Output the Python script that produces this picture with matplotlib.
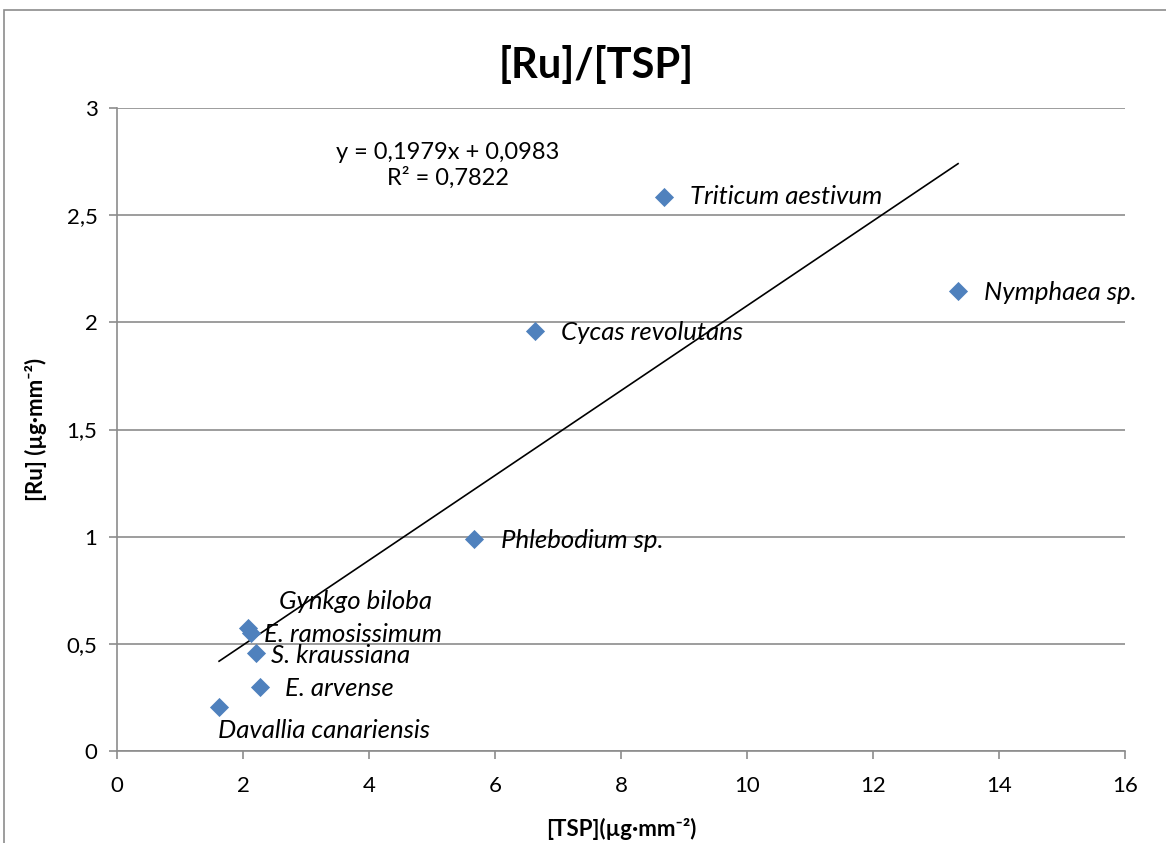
import matplotlib.pyplot as plt
import numpy as np
from matplotlib.patches import Rectangle

plt.rcParams['font.family'] = ['Lato', 'DejaVu Sans']

species = ["Triticum aestivum", "Nymphaea sp.", "Cycas revolutans", "Phlebodium sp.",
           "Gynkgo biloba", "E. ramosissimum", "S. kraussiana", "E. arvense",
           "Davallia canariensis"]
tsp = [8.68, 13.35, 6.63, 5.67, 2.08, 2.13, 2.20, 2.27, 1.62]
ru = [2.585, 2.146, 1.96, 0.99, 0.575, 0.55, 0.457, 0.30, 0.205]
# label offsets in points (dx, dy)
offsets = [(19, 0), (19, -1), (19, -1), (19, -1), (22, 19), (9, -1), (11, -2), (18, -1), (-1, -17)]

slope, intercept = 0.1979, 0.0983
eq_text = "y = 0,1979x + 0,0983\nR² = 0,7822"

xticks = [0, 2, 4, 6, 8, 10, 12, 14, 16]
yticks = [0, 0.5, 1, 1.5, 2, 2.5, 3]
ylabels = ["0", "0,5", "1", "1,5", "2", "2,5", "3"]

fig = plt.figure(figsize=(11.66, 8.43), dpi=100)
ax = fig.add_axes([117/1166, 1-751/843, (1125-117)/1166, (751-108)/843])

fig.patches.append(Rectangle((4/1166, -0.05), 1.1, 1-10/843+0.05, transform=fig.transFigure,
                             fill=False, edgecolor='#8c8c8c', linewidth=1.2))

ax.scatter(tsp, ru, marker='D', s=95, color='#4F81BD', zorder=3, linewidths=0)

xs = np.array([min(tsp), max(tsp)])
ax.plot(xs, slope*xs + intercept, color='black', linewidth=1.2, zorder=2)

for name, x, y, (dx, dy) in zip(species, tsp, ru, offsets):
    ax.annotate(name, (x, y), xytext=(dx, dy), textcoords='offset points',
                fontsize=18.5, style='italic', va='center', ha='left', zorder=4)

ax.text(5.25, 2.73, eq_text, ha='center', va='center', fontsize=17, linespacing=1.2)

ax.set_xlim(0, 16)
ax.set_ylim(0, 3)
ax.set_xticks(xticks)
ax.set_xticklabels([str(t) for t in xticks], fontsize=16)
ax.set_yticks(yticks)
ax.set_yticklabels(ylabels, fontsize=16)
ax.yaxis.grid(True, color='#8c8c8c', linewidth=1.2)
ax.set_axisbelow(True)
for s in ['top', 'right']:
    ax.spines[s].set_visible(False)
for s in ['left', 'bottom']:
    ax.spines[s].set_color('#8c8c8c')
    ax.spines[s].set_linewidth(1.2)
ax.tick_params(axis='x', direction='out', length=6, width=1.2, color='#8c8c8c', pad=12)
ax.tick_params(axis='y', direction='out', length=6, width=1.2, color='#8c8c8c', pad=8)

fig.text(596/1166, 1-66/843, "[Ru]/[TSP]", fontsize=30, fontweight='bold', ha='center', va='center')
ax.set_xlabel("[TSP](µg·mm⁻²)", fontsize=16, fontweight='bold', labelpad=16)
ax.set_ylabel("[Ru] (µg·mm⁻²)", fontsize=16, fontweight='bold', labelpad=14)

fig.savefig("out.png", dpi=100)
